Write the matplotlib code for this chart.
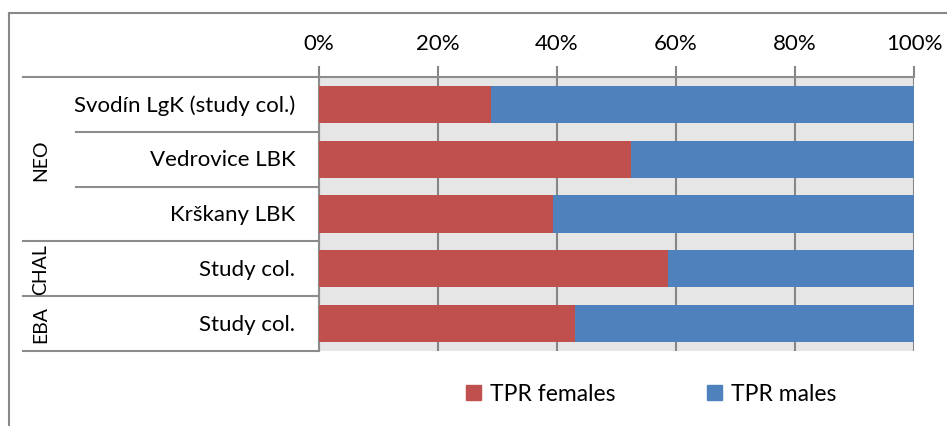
import matplotlib
matplotlib.use("Agg")
import matplotlib.pyplot as plt
from matplotlib.lines import Line2D
from matplotlib.patches import Patch
import numpy as np

plt.rcParams['font.family'] = ['Lato', 'DejaVu Sans']

# data
sites = ["Svodín LgK (study col.)", "Vedrovice LBK", "Krškany LBK", "Study col.", "Study col."]
periods = ["NEO", "CHAL", "EBA"]
period_rows = [(0, 3), (3, 4), (4, 5)]
females = [0.289, 0.525, 0.394, 0.586, 0.430]
males = [1 - f for f in females]
ticks = [0, 0.2, 0.4, 0.6, 0.8, 1.0]
tick_labels = ["0%", "20%", "40%", "60%", "80%", "100%"]

RED = "#C0504D"
BLUE = "#4F81BD"
GRID = "#868686"
LINE = "#8C8C8C"

W, H = 947, 427
fig = plt.figure(figsize=(W / 100, H / 100), dpi=100)
ax = fig.add_axes([319 / W, 1 - 352 / H, (914 - 319) / W, (352 - 78) / H])
ax.set_facecolor("#E6E6E6")

y = np.arange(len(sites)) + 0.5
ax.barh(y, females, height=0.68, color=RED, zorder=3)
ax.barh(y, males, left=females, height=0.68, color=BLUE, zorder=3)

ax.set_xlim(0, 1)
ax.set_ylim(len(sites), 0)
ax.set_xticks(ticks)
ax.set_xticklabels(tick_labels, fontsize=16)
ax.xaxis.tick_top()
ax.tick_params(axis="x", length=8, width=1.5, color=GRID, pad=9)
ax.grid(axis="x", color=GRID, lw=1.5, zorder=1)
ax.set_yticks([])
for s in ["right", "bottom"]:
    ax.spines[s].set_visible(False)
ax.spines["top"].set_color(LINE)
ax.spines["top"].set_linewidth(1.5)
ax.spines["left"].set_color(LINE)
ax.spines["left"].set_linewidth(1.5)

# category labels
for yi, name in zip(y, sites):
    ax.text(-0.040, yi, name, ha="right", va="center", fontsize=16,
            transform=ax.get_yaxis_transform())

# separators of the two-level axis
inner_x = (76 - 319) / (914 - 319)
outer_x = (23 - 319) / (914 - 319)
group_edges = {0, 3, 4, 5}
for b in range(len(sites) + 1):
    x0 = outer_x if b in group_edges else inner_x
    ax.add_line(Line2D([x0, 0], [b, b], color=LINE, lw=1.5, clip_on=False,
                       transform=ax.get_yaxis_transform()))

gx = (41 - 319) / (914 - 319)
for name, (a, b) in zip(periods, period_rows):
    ax.text(gx, (a + b) / 2, name, rotation=90, ha="center", va="center",
            fontsize=14, transform=ax.get_yaxis_transform())

# chart border
fig.add_artist(Line2D([9 / W, 9 / W], [0, 1 - 14 / H], color="#888888", lw=1.5))
fig.add_artist(Line2D([9 / W, 1], [1 - 14 / H, 1 - 14 / H], color="#888888", lw=1.5))

handles = [Patch(color=RED, label="TPR females"), Patch(color=BLUE, label="TPR males")]
fig.legend(handles=handles, loc="center", bbox_to_anchor=(651 / W, 1 - 395 / H),
           ncol=2, frameon=False, fontsize=16.5, handlelength=0.65, handleheight=0.65,
           handletextpad=0.4, columnspacing=4.0)

fig.savefig("out.png", dpi=100)
